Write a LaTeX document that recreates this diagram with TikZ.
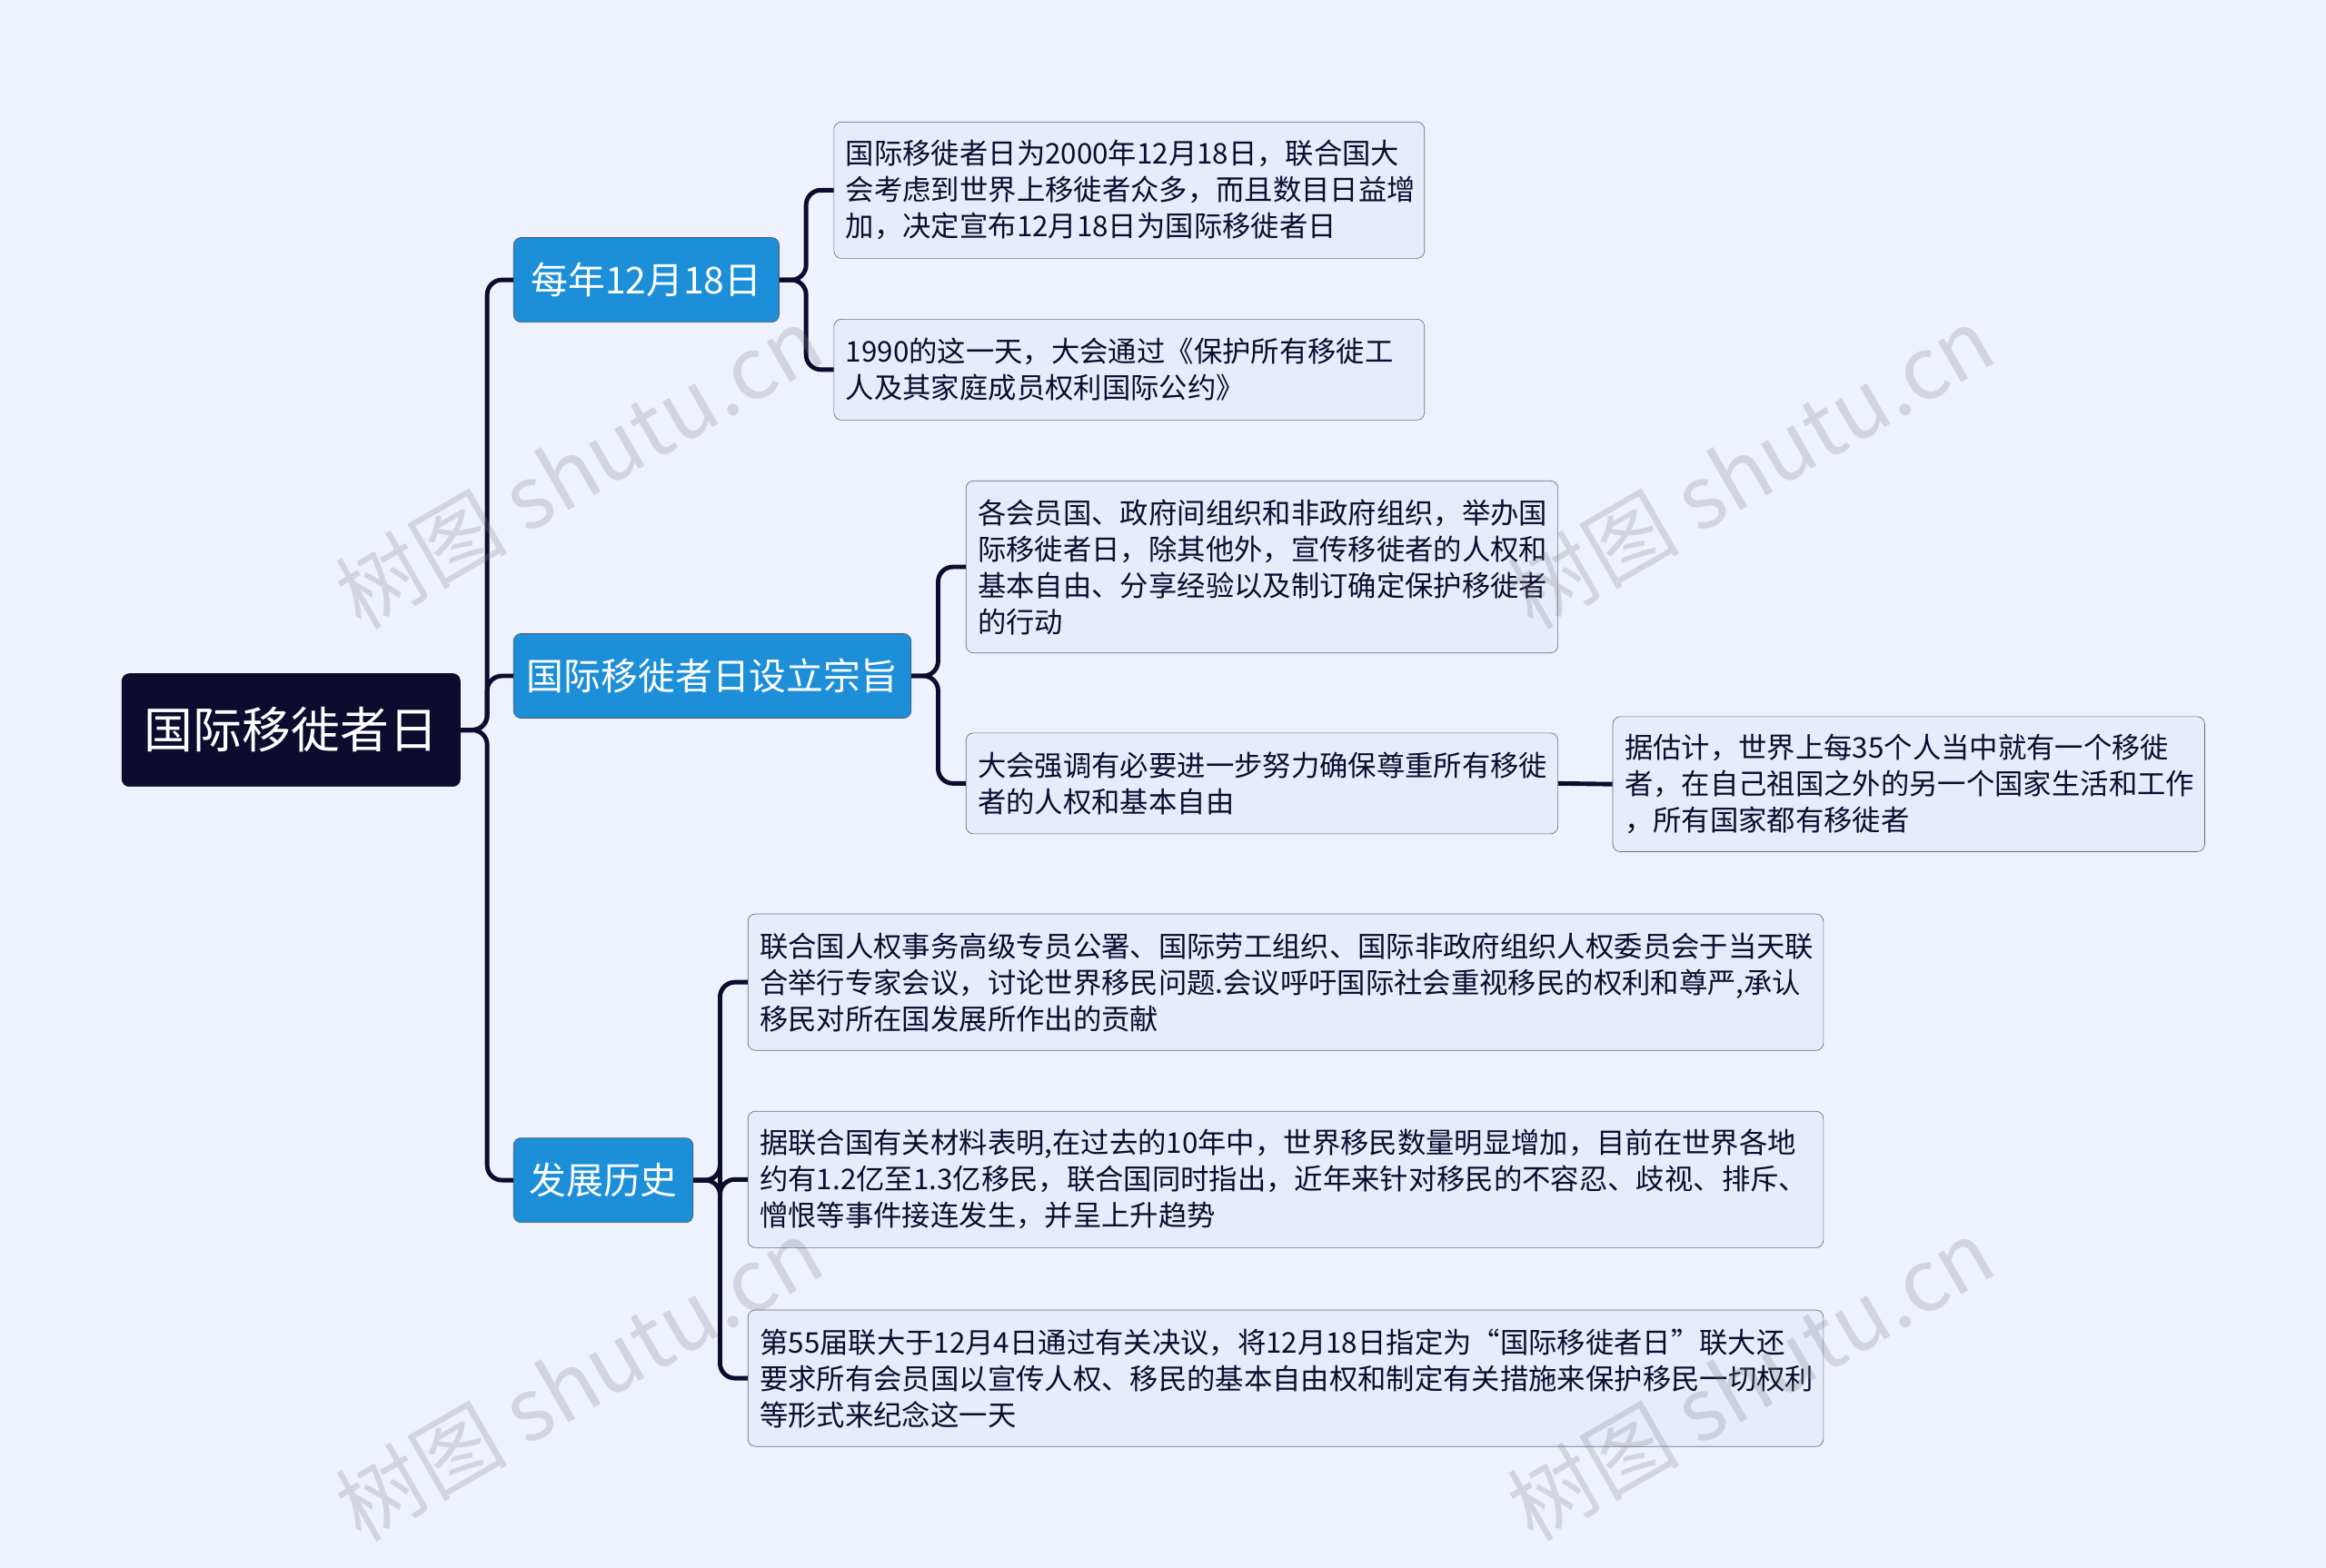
\documentclass[tikz,border=0pt]{standalone}
\usepackage{fontspec}
\newfontfamily\cjk{Noto Sans CJK SC}
\definecolor{bg}{HTML}{EEF2FD}
\definecolor{navy}{HTML}{0D0B2E}
\definecolor{blue1}{HTML}{1C8FD8}
\definecolor{leaf}{HTML}{E6ECFB}
\definecolor{edge}{HTML}{6A6A78}
\begin{document}
\begin{tikzpicture}[x=1pt,y=-1pt,
 rootbox/.style={draw=navy,fill=navy,text=white,rounded corners=5pt,anchor=north west,font=\cjk\fontsize{33}{38}\selectfont,inner sep=0pt,align=center},
 mainbox/.style={draw=navy!70,fill=blue1,text=white,rounded corners=5pt,anchor=north west,font=\cjk\fontsize{25}{28}\selectfont,inner sep=0pt,align=center},
 leafbox/.style={draw=edge,fill=leaf,text=navy,rounded corners=5pt,anchor=north west,font=\cjk\fontsize{19.2}{24.5}\selectfont,inner sep=0pt,align=left},
 conn/.style={draw=navy,line width=3pt,rounded corners=10pt},
 wm/.style={text=gray,opacity=0.25,font=\cjk\fontsize{58}{60}\selectfont,rotate=30}]
\fill[bg] (0,0) rectangle (1568,1057);
\useasboundingbox (0,0) rectangle (1568,1057);

\node[rootbox,minimum width=228pt,minimum height=76pt] (root) at (82,454) {国际移徙者日};
\node[mainbox,minimum width=179pt,minimum height=57pt] (a) at (346,160) {每年12月18日};
\node[mainbox,minimum width=268pt,minimum height=57pt] (b) at (346,427) {国际移徙者日设立宗旨};
\node[mainbox,minimum width=121pt,minimum height=57pt] (c) at (346,767) {发展历史};

\node[leafbox,minimum width=398pt,minimum height=92pt,text width=390pt] (a1) at (562,82) {\hspace*{4pt}国际移徙者日为2000年12月18日，联合国大\\\hspace*{4pt}会考虑到世界上移徙者众多，而且数目日益增\\\hspace*{4pt}加，决定宣布12月18日为国际移徙者日};
\node[leafbox,minimum width=398pt,minimum height=68pt,text width=390pt] (a2) at (562,215) {\hspace*{4pt}1990的这一天，大会通过《保护所有移徙工\\\hspace*{4pt}人及其家庭成员权利国际公约》};
\node[leafbox,minimum width=399pt,minimum height=116pt,text width=391pt] (b1) at (651,324) {\hspace*{4pt}各会员国、政府间组织和非政府组织，举办国\\\hspace*{4pt}际移徙者日，除其他外，宣传移徙者的人权和\\\hspace*{4pt}基本自由、分享经验以及制订确定保护移徙者\\\hspace*{4pt}的行动};
\node[leafbox,minimum width=399pt,minimum height=68pt,text width=391pt] (b2) at (651,494) {\hspace*{4pt}大会强调有必要进一步努力确保尊重所有移徙\\\hspace*{4pt}者的人权和基本自由};
\node[leafbox,minimum width=399pt,minimum height=91pt,text width=391pt] (b21) at (1087,483) {\hspace*{4pt}据估计，世界上每35个人当中就有一个移徙\\\hspace*{4pt}者，在自己祖国之外的另一个国家生活和工作\\\hspace*{4pt}，所有国家都有移徙者};
\node[leafbox,minimum width=725pt,minimum height=92pt,text width=717pt] (c1) at (504,616) {\hspace*{4pt}联合国人权事务高级专员公署、国际劳工组织、国际非政府组织人权委员会于当天联\\\hspace*{4pt}合举行专家会议，讨论世界移民问题.会议呼吁国际社会重视移民的权利和尊严,承认\\\hspace*{4pt}移民对所在国发展所作出的贡献};
\node[leafbox,minimum width=725pt,minimum height=92pt,text width=717pt] (c2) at (504,749) {\hspace*{4pt}据联合国有关材料表明,在过去的10年中，世界移民数量明显增加，目前在世界各地\\\hspace*{4pt}约有1.2亿至1.3亿移民，联合国同时指出，近年来针对移民的不容忍、歧视、排斥、\\\hspace*{4pt}憎恨等事件接连发生，并呈上升趋势};
\node[leafbox,minimum width=725pt,minimum height=92pt,text width=717pt] (c3) at (504,883) {\hspace*{4pt}第55届联大于12月4日通过有关决议，将12月18日指定为“国际移徙者日”联大还\\\hspace*{4pt}要求所有会员国以宣传人权、移民的基本自由权和制定有关措施来保护移民一切权利\\\hspace*{4pt}等形式来纪念这一天};

\foreach \t in {a,b,c} \draw[conn] (root.east) -- ++(18,0) |- (\t.west);
\foreach \t in {a1,a2} \draw[conn] (a.east) -- ++(18,0) |- (\t.west);
\foreach \t in {b1,b2} \draw[conn] (b.east) -- ++(18,0) |- (\t.west);
\foreach \t in {c1,c2,c3} \draw[conn] (c.east) -- ++(18,0) |- (\t.west);
\draw[conn] (b2.east) -- (b21.west);

\node[wm] (w1) at (390,315) {树图 shutu.cn};
\node[wm] (w2) at (1180,315) {树图 shutu.cn};
\node[wm] (w3) at (390,930) {树图 shutu.cn};
\node[wm] (w4) at (1180,930) {树图 shutu.cn};
\end{tikzpicture}
\end{document}
